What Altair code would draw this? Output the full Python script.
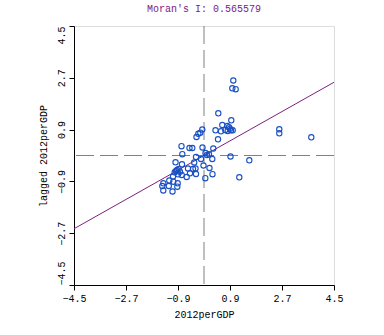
import altair as alt
import pandas as pd

x_vals = [1.014, 0.980, 1.097, 0.495, 0.945,
          0.633, 0.807, 0.865, 0.900, 0.935, 0.993, 0.820, 0.737, 0.588, 0.398,
          -0.059, -0.128, -0.197, -0.260, 0.485, -0.779, -0.502, -0.405, -0.052, 0.322,
          -0.751, 0.052, 0.104, 0.173, -0.277, -0.104, 0.287, 0.917, 1.568,
          -0.986, -0.762, -0.339, -0.017, -0.554, -0.381, -0.294, 0.190,
          -0.935, -0.876, -0.831, -1.014, -0.900, -0.772, -0.969,
          -0.485, -0.277, 0.294, -0.599, 0.045, 1.222, -1.073, -1.201, -1.063,
          -0.910, -1.409, -1.443, -1.218, -0.924, -1.409, -1.090,
          2.606, 2.606, 3.714]
y_vals = [2.606, 2.335, 2.304, 1.466, 1.223,
          1.060, 1.025, 0.980, 0.931, 0.876, 0.876, 0.851, 0.886, 0.841, 0.876,
          0.903, 0.792, 0.754, 0.643, 0.563, 0.323, 0.261, 0.261, 0.278, 0.243,
          0.045, 0.087, 0.017, 0.042, -0.052, -0.122, -0.122, -0.035, -0.167,
          -0.236, -0.306, -0.243, -0.347, -0.452, -0.469, -0.452, -0.434,
          -0.504, -0.469, -0.563, -0.584, -0.653, -0.678, -0.539,
          -0.618, -0.643, -0.650, -0.747, -0.789, -0.757, -0.730, -0.869, -0.910,
          -0.966, -0.966, -1.060, -1.060, -1.084, -1.216, -1.251,
          0.910, 0.771, 0.632]

morans_i = 0.565579
axis_range = [-4.5, 4.5]
tick_values = [-4.5, -2.7, -0.9, 0.9, 2.7, 4.5]

FONT = "Liberation Mono"
PURPLE = "#802080"
BLUE = "#1a50c4"

pts = pd.DataFrame({"x": x_vals, "y": y_vals})
line_df = pd.DataFrame({"x": axis_range})

xs = alt.Scale(domain=axis_range, nice=False, zero=False)
ys = alt.Scale(domain=axis_range, nice=False, zero=False)

x_axis = alt.Axis(values=tick_values, format=".1f", title="2012perGDP", grid=False,
                  domainColor="black", tickColor="black", tickSize=5,
                  labelFont=FONT, labelFontSize=10, labelColor="black",
                  titleFont=FONT, titleFontSize=10, titleFontWeight="normal",
                  titleColor="black", titlePadding=6, labelPadding=3, labelFlush=False)
y_axis = alt.Axis(values=tick_values, format=".1f", title="lagged 2012perGDP", grid=False,
                  domainColor="black", tickColor="black", tickSize=5,
                  labelAngle=-90,
                  labelAlign=alt.ExprRef(expr="datum.value >= 4.5 ? 'right' : datum.value <= -4.5 ? 'left' : 'center'"),
                  labelBaseline="bottom",
                  labelFont=FONT, labelFontSize=10, labelColor="black",
                  titleFont=FONT, titleFontSize=10, titleFontWeight="normal",
                  titleColor="black", titlePadding=8, labelPadding=3, labelFlush=False)

vrule = alt.Chart(pd.DataFrame({"v": [0]})).mark_rule(
    color="#808080", strokeDash=[18, 6], strokeWidth=1
).encode(x=alt.X("v:Q", scale=xs, axis=x_axis))

hrule = alt.Chart(pd.DataFrame({"v": [0]})).mark_rule(
    color="#808080", strokeDash=[18, 6], strokeWidth=1
).encode(y=alt.Y("v:Q", scale=ys, axis=y_axis))

reg = alt.Chart(line_df).transform_calculate(
    y=f"{morans_i} * datum.x"
).mark_line(color=PURPLE, strokeWidth=1).encode(
    x=alt.X("x:Q", scale=xs, axis=x_axis),
    y=alt.Y("y:Q", scale=ys, axis=y_axis),
)

points = alt.Chart(pts).mark_point(shape="circle", filled=False, color=BLUE, size=28,
                                   strokeWidth=1.1, opacity=1).encode(
    x=alt.X("x:Q", scale=xs, axis=x_axis),
    y=alt.Y("y:Q", scale=ys, axis=y_axis),
)

chart = alt.layer(vrule, hrule, reg, points).properties(
    width=260, height=259,
    title=alt.TitleParams(f"Moran's I: {morans_i}", font=FONT, fontSize=10,
                          fontWeight="normal", color=PURPLE, offset=12, anchor="middle"),
    autosize=alt.AutoSizeParams(type="none"),
    padding={"left": 74, "top": 26, "right": 50, "bottom": 50},
).configure_view(stroke=None).configure(background="white")

chart.save("out.html", embed_options={"renderer": "svg", "actions": False})
